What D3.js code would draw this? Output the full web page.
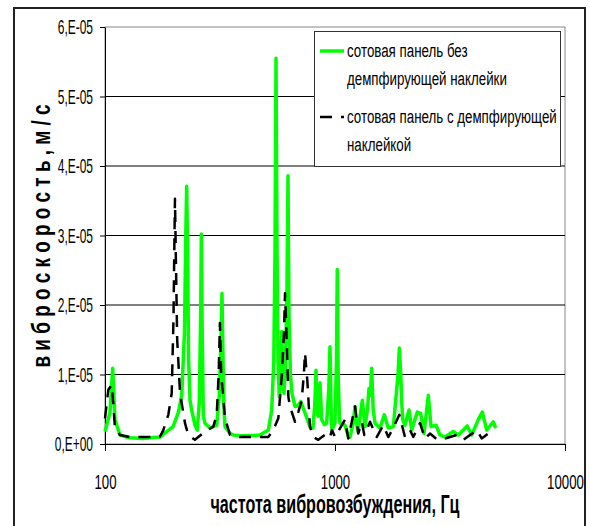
<!DOCTYPE html>
<html>
<head>
<meta charset="utf-8">
<script src="https://cdn.jsdelivr.net/npm/d3@7"></script>
<style>
  body { margin: 0; background: #fff; }
  text { font-family: "Liberation Sans", Arial, sans-serif; }
</style>
</head>
<body>
<div id="chart"></div>
<script>
// chart data (velocity in units of 1E-05 m/s, frequency in Hz)

const greenHz = [100, 105.1, 108, 110.5, 116.2, 128, 146, 173, 197.6, 208.3, 215.5, 221.6, 224.5, 226.5, 228.5, 231, 234.2, 238, 246.2, 251.9,
  257, 260.5, 262.3, 264.2, 267.6, 272, 286, 306, 314, 319.5, 322.6, 325.6, 329, 332.5, 350, 361, 386, 430, 472, 513,
  530.7, 542, 548.5, 552, 554, 556, 559.5, 565, 572.6, 579, 586.6, 593, 600.3, 610, 618, 622, 624.7, 627, 631, 640,
  650.2, 670, 690, 709.5, 740, 778, 802, 818, 826.7, 835, 845, 860.6, 875, 900, 920, 940, 951, 962, 970, 1000,
  1015, 1023, 1032, 1045, 1051, 1105, 1142, 1162, 1200, 1222, 1240, 1259, 1315, 1350, 1385, 1405, 1425, 1444, 1465, 1493,
  1569, 1638, 1705, 1793, 1842, 1880, 1904, 1931, 1950, 1970, 2015, 2098, 2155, 2279, 2358, 2438, 2545, 2615, 2749, 2861,
  3008, 3268, 3436, 3760, 3930, 4198, 4369, 4566, 4880, 4997];
const greenV = [0.18, 0.45, 1.09, 0.35, 0.13, 0.09, 0.08, 0.10, 0.25, 0.45, 0.7, 1.6, 3.0, 3.71, 2.8, 1.2, 0.63, 0.49, 0.27, 0.2,
  0.6, 1.8, 3.02, 1.8, 0.4, 0.3, 0.23, 0.27, 0.7, 1.5, 2.17, 1.3, 0.5, 0.25, 0.15, 0.13, 0.12, 0.12, 0.13, 0.2,
  0.49, 1.2, 2.8, 4.6, 5.55, 4.6, 2.8, 1.2, 0.68, 0.9, 1.62, 1.0, 0.73, 1.2, 2.2, 3.2, 3.86, 3.0, 1.83, 1.0,
  0.73, 0.54, 0.55, 0.61, 0.45, 0.25, 0.23, 0.6, 1.06, 0.5, 0.4, 0.88, 0.35, 0.28, 0.3, 0.8, 1.4, 0.5, 0.2, 0.3,
  1.2, 2.51, 1.0, 0.4, 0.3, 0.27, 0.12, 0.1, 0.3, 0.54, 0.3, 0.18, 0.63, 0.25, 0.5, 0.8, 0.7, 1.09, 0.5, 0.3,
  0.23, 0.42, 0.23, 0.25, 0.68, 1.0, 1.38, 1.02, 0.6, 0.35, 0.27, 0.49, 0.2, 0.46, 0.44, 0.15, 0.7, 0.25, 0.27, 0.13,
  0.1, 0.18, 0.13, 0.26, 0.13, 0.35, 0.46, 0.2, 0.32, 0.23];

const blackHz = [100, 103.4, 106.9, 108.5, 110.5, 116.2, 128, 173, 179.3, 188.5, 195, 198.5, 200.5, 201.5, 203, 206, 212, 222.7, 230.2, 246,
  272, 295.7, 306, 312, 316, 320, 332.5, 349.6, 386, 513, 539, 567, 586.6, 600, 606.3, 616.6, 627, 637, 670, 692.5,
  716.6, 732, 740.5, 757.8, 778.5, 804.6, 846, 920, 951, 970, 1000, 1105, 1142, 1222, 1262, 1307, 1341, 1420, 1518, 1622,
  1705, 1793, 1904, 2015, 2119, 2189, 2342, 2462, 2588, 2768, 3008, 3381, 3613, 4131, 4343, 4640, 4963];
const blackV = [0.37, 0.78, 0.85, 0.6, 0.23, 0.13, 0.1, 0.1, 0.2, 0.42, 0.73, 1.8, 3.0, 3.53, 2.8, 1.5, 0.73, 0.3, 0.13, 0.06,
  0.18, 0.25, 0.42, 1.0, 1.74, 1.0, 0.37, 0.13, 0.1, 0.1, 0.2, 0.37, 0.97, 1.6, 2.17, 1.5, 0.68, 0.54, 0.32, 0.46,
  0.63, 1.0, 1.31, 0.92, 0.25, 0.1, 0.06, 0.15, 0.1, 0.2, 0.1, 0.35, 0.08, 0.54, 0.15, 0.32, 0.13, 0.32, 0.1, 0.27,
  0.1, 0.23, 0.42, 0.1, 0.2, 0.1, 0.3, 0.08, 0.15, 0.07, 0.08, 0.13, 0.06, 0.2, 0.08, 0.15, 0.13];

const yTicks = [0, 1, 2, 3, 4, 5, 6];
const yTickLabels = ["0,E+00", "1,E-05", "2,E-05", "3,E-05", "4,E-05", "5,E-05", "6,E-05"];
const xTicks = [100, 1000, 10000];
const xTickLabels = ["100", "1000", "10000"];

const legendLabels = [
  ["сотовая панель без", "демпфирующей наклейки"],
  ["сотовая панель с демпфирующей", "наклейкой"]
];
const xTitle = "частота вибровозбуждения, Гц";
const yTitle = "в и б р о с к о р о с т ь ,   м / с";

const WIDTH = 590, HEIGHT = 526;
const PLOT = {left: 105, right: 565, top: 27, bottom: 444};
const GREEN = "#00ff00";

const svg = d3.select("#chart").append("svg")
    .attr("width", WIDTH)
    .attr("height", HEIGHT);

const x = d3.scaleLog().domain([100, 10000]).range([PLOT.left, PLOT.right]);
const y = d3.scaleLinear().domain([0, 6]).range([PLOT.bottom, PLOT.top]);

// squeeze text horizontally (the source uses a narrow, tall font)
function squeeze(sel, k) {
  sel.each(function() {
    const w = this.getComputedTextLength();
    d3.select(this).attr("textLength", w * k).attr("lengthAdjust", "spacingAndGlyphs");
  });
}

// plot area border
svg.append("rect")
    .attr("x", PLOT.left).attr("y", PLOT.top)
    .attr("width", PLOT.right - PLOT.left).attr("height", PLOT.bottom - PLOT.top)
    .attr("fill", "none").attr("stroke", "#888");

// gridlines
svg.append("g").selectAll("line")
  .data(yTicks.filter(d => d > 0 && d < 6))
  .enter().append("line")
    .attr("x1", PLOT.left).attr("x2", PLOT.right)
    .attr("y1", d => y(d)).attr("y2", d => y(d))
    .attr("stroke", "#000");

// y axis
const yAxis = svg.append("g")
    .attr("transform", `translate(${PLOT.left},0)`)
    .call(d3.axisLeft(y).tickValues(yTicks).tickSize(5).tickSizeOuter(0).tickPadding(7)
      .tickFormat((d, i) => yTickLabels[i]));
yAxis.attr("font-family", null);
yAxis.selectAll("text").attr("font-size", 21).attr("fill", "#000");
yAxis.selectAll("line, path").attr("stroke", "#000");
squeeze(yAxis.selectAll("text"), 0.57);

// x axis
const xAxis = svg.append("g")
    .attr("transform", `translate(0,${PLOT.bottom})`)
    .call(d3.axisBottom(x).tickValues(xTicks).tickSize(7).tickSizeOuter(0).tickPadding(23)
      .tickFormat((d, i) => xTickLabels[i]));
xAxis.attr("font-family", null);
xAxis.selectAll("text").attr("font-size", 21).attr("fill", "#000");
xAxis.selectAll("line, path").attr("stroke", "#000");
squeeze(xAxis.selectAll("text"), 0.63);

// series
const line = d3.line()
    .x(d => x(d[0]))
    .y(d => y(d[1]));

const greenData = d3.zip(greenHz, greenV);
const blackData = d3.zip(blackHz, blackV);

svg.append("path")
    .datum(greenData)
    .attr("fill", "none")
    .attr("stroke", GREEN)
    .attr("stroke-width", 3.5)
    .attr("stroke-linejoin", "round")
    .attr("d", line);

svg.append("path")
    .datum(blackData)
    .attr("fill", "none")
    .attr("stroke", "#000")
    .attr("stroke-width", 2.5)
    .attr("stroke-dasharray", "12,9")
    .attr("stroke-linejoin", "round")
    .attr("d", line);

// axis titles
svg.append("text")
    .attr("x", 335).attr("y", 513)
    .attr("text-anchor", "middle")
    .attr("font-size", 26).attr("font-weight", "bold")
    .attr("textLength", 249).attr("lengthAdjust", "spacingAndGlyphs")
    .text(xTitle);

svg.append("text")
    .attr("transform", "translate(50,236) rotate(-90)")
    .attr("text-anchor", "middle")
    .attr("font-size", 26).attr("font-weight", "bold")
    .attr("textLength", 263).attr("lengthAdjust", "spacingAndGlyphs")
    .text(yTitle);

// legend
const legend = svg.append("g");
legend.append("rect")
    .attr("x", 314.5).attr("y", 31.5).attr("width", 246).attr("height", 135)
    .attr("fill", "#fff").attr("stroke", "#333");

const legendStyles = [
  {stroke: GREEN, width: 3.5, dash: null, ly: 51, base: [57, 85]},
  {stroke: "#000", width: 2.5, dash: "12,9", ly: 117, base: [123, 151]}
];
legendStyles.forEach((s, i) => {
  legend.append("line")
      .attr("x1", 320).attr("x2", 344)
      .attr("y1", s.ly).attr("y2", s.ly)
      .attr("stroke", s.stroke).attr("stroke-width", s.width)
      .attr("stroke-dasharray", s.dash);
  legendLabels[i].forEach((t, j) => {
    const tx = legend.append("text")
        .attr("x", 347).attr("y", s.base[j])
        .attr("font-size", 18)
        .text(t);
    squeeze(tx, 0.74);
  });
});

// outer chart frame
svg.append("rect")
    .attr("x", 14).attr("y", 8)
    .attr("width", 571).attr("height", 540)
    .attr("fill", "none").attr("stroke", "#222").attr("stroke-width", 2);
</script>
</body>
</html>
